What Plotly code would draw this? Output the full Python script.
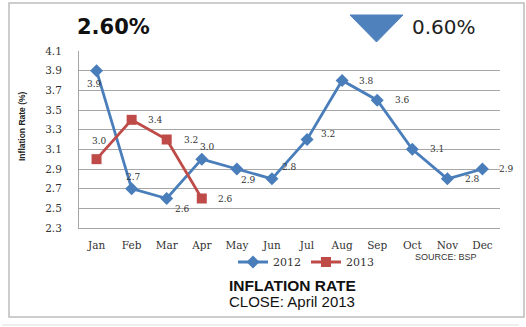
import plotly.graph_objects as go

months = ["Jan", "Feb", "Mar", "Apr", "May", "Jun", "Jul", "Aug", "Sep", "Oct", "Nov", "Dec"]
rate_2012 = [3.9, 2.7, 2.6, 3.0, 2.9, 2.8, 3.2, 3.8, 3.6, 3.1, 2.8, 2.9]
months_2013 = ["Jan", "Feb", "Mar", "Apr"]
rate_2013 = [3.0, 3.4, 3.2, 2.6]
y_ticks = [2.3, 2.5, 2.7, 2.9, 3.1, 3.3, 3.5, 3.7, 3.9, 4.1]

# label offsets (pixels) - style only
off_2012 = [(-2, -13), (2, 12), (16, -10), (6, 12), (12, -11), (18, 12),
            (21, 6), (24, 0), (25, 0), (25, 0), (25, 0), (24, 0)]
off_2013 = [(3, 18), (24, 0), (24, 0), (24, 0)]

W, H = 526, 327
L, R, T, B = 79, 26, 51, 99
pw, ph = W - L - R, H - T - B


def px(x):
    return (x - L) / pw


def py(y):
    return (H - B - y) / ph


BLUE = "#4a7ebb"
RED = "#be4b48"
tick_font = dict(family="DejaVu Serif", size=10.5, color="#333333")

fig = go.Figure()
fig.add_trace(go.Scatter(x=months, y=rate_2012, name="2012", mode="lines+markers",
                         line=dict(color=BLUE, width=2.8),
                         marker=dict(symbol="diamond", size=10, color=BLUE)))
fig.add_trace(go.Scatter(x=months_2013, y=rate_2013, name="2013", mode="lines+markers",
                         line=dict(color=RED, width=2.8),
                         marker=dict(symbol="square", size=10, color=RED)))

ann = []
label_font = dict(family="DejaVu Serif", size=9, color="#333333")
for m, v, (dx, dy) in zip(months, rate_2012, off_2012):
    ann.append(dict(x=m, y=v, xref="x", yref="y", text=f"{v:.1f}", showarrow=False,
                    xshift=dx, yshift=dy, font=label_font))
for m, v, (dx, dy) in zip(months_2013, rate_2013, off_2013):
    ann.append(dict(x=m, y=v, xref="x", yref="y", text=f"{v:.1f}", showarrow=False,
                    xshift=dx, yshift=dy, font=label_font))


def pa(x, y, text, font, **kw):
    d = dict(x=px(x), y=py(y), xref="paper", yref="paper", text=text, showarrow=False,
             xanchor="center", yanchor="middle", font=font)
    d.update(kw)
    return d


ann += [
    pa(113.5, 27, "<b>2.60%</b>", dict(family="DejaVu Sans", size=21, color="#111111")),
    pa(443.5, 27, "0.60%", dict(family="DejaVu Sans", size=20, color="#222222")),
    pa(22, 126, "<b>Inflation Rate (%)</b>", dict(family="Liberation Sans", size=8.5, color="#222222"),
       textangle=-90),
    pa(446, 257, "SOURCE: BSP", dict(family="Liberation Sans", size=9, color="#333333")),
    pa(292, 285, "<b>INFLATION RATE</b>", dict(family="Liberation Sans", size=15.5, color="#111111")),
    pa(292, 301, "CLOSE: April 2013", dict(family="Liberation Sans", size=15, color="#111111")),
]

shapes = [
    dict(type="rect", xref="paper", yref="paper", x0=px(9), x1=px(524), y0=py(317), y1=py(3),
         line=dict(color="#bdbdbd", width=1.5), layer="below"),
    dict(type="line", xref="paper", yref="paper", x0=px(2), x1=px(519), y0=py(325), y1=py(325),
         line=dict(color="#dddddd", width=1)),
    dict(type="path", xref="paper", yref="paper",
         path=f"M {px(350)},{py(15)} L {px(403)},{py(15)} L {px(376.5)},{py(42)} Z",
         fillcolor="#4f81bd", line=dict(color="#4f81bd", width=1)),
]

fig.update_layout(
    width=W, height=H,
    margin=dict(l=L, r=R, t=T, b=B),
    paper_bgcolor="white", plot_bgcolor="white",
    showlegend=True,
    legend=dict(orientation="h", x=px(306), y=py(262), xanchor="center", yanchor="middle",
                font=dict(family="DejaVu Serif", size=11, color="#333333"),
                itemwidth=30, tracegroupgap=0, bgcolor="rgba(0,0,0,0)"),
    annotations=ann,
    shapes=shapes,
)
fig.update_xaxes(type="category", categoryorder="array", categoryarray=months,
                 range=[-0.5, 11.5], showgrid=False, showline=True, linecolor="#a6a6a6",
                 linewidth=1, ticks="", tickfont=tick_font, ticklabelstandoff=7, fixedrange=True)
fig.update_yaxes(range=[2.3, 4.1], tickvals=y_ticks, ticktext=[f"{t:.1f}" for t in y_ticks],
                 showgrid=True, gridcolor="#a6a6a6", gridwidth=1, showline=True,
                 linecolor="#a6a6a6", linewidth=1, zeroline=False, ticks="",
                 tickfont=tick_font, ticklabelstandoff=14, fixedrange=True)

fig.write_html("out.html")
